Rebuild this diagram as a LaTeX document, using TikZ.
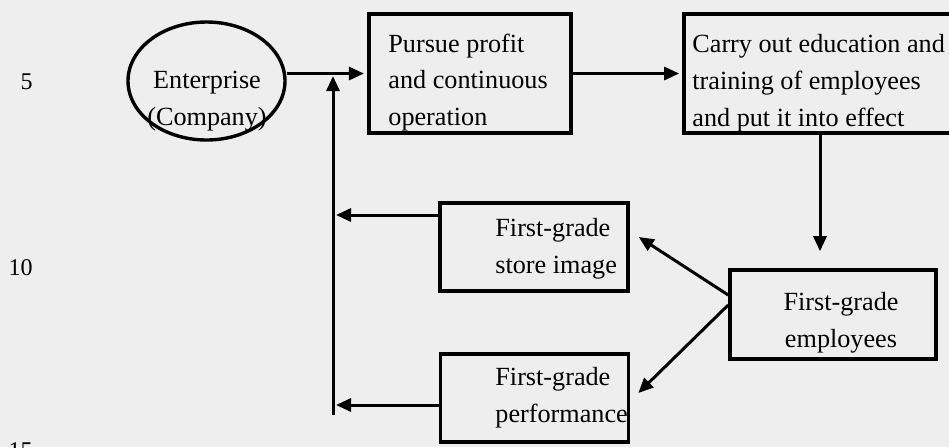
\documentclass[tikz,border=0pt]{standalone}
\usepackage{fontspec}
\setmainfont{Liberation Serif}
\usetikzlibrary{shapes,arrows.meta,positioning}
\definecolor{paper}{RGB}{238,238,238}

\begin{document}
\begin{tikzpicture}[
	x=0.5pt, y=-0.5pt,
	font=\fontsize{13.1}{18.3}\selectfont,
	box/.style={draw, rectangle, line width=1.8pt, inner sep=0pt},
	firmnode/.style={draw, ellipse, line width=1.7pt, minimum width=78.5pt, minimum height=59pt, inner sep=0pt},
	boxtext/.style={inner sep=0pt, align=left, anchor=base west},
	linenum/.style={inner sep=0pt, anchor=base east, font=\fontsize{12}{14}\selectfont},
	arr/.style={-{Triangle[length=7.5pt,width=6.5pt]}, line width=1.5pt},
	]
	\fill[paper] (0,0) rectangle (949,447);
	\useasboundingbox (0,0) rectangle (949,447);

	%Line numbers
	\node[linenum] (n5)  at (33,89)  {5};
	\node[linenum] (n10) at (33,275) {10};
	\node[linenum] (n15) at (33,458) {15};

	%Nodes (text anchored at the base of its last line)
	\node[firmnode] (firm)   at (206.5,81) {};
	\node[boxtext, align=center, anchor=base] (firmtxt) at (207,125.5) {Enterprise\\(Company)};
	\node[box, minimum width=101.25pt, minimum height=59.5pt] (profit) at (470,73.5) {};
	\node[boxtext] (profittxt) at (388,125.5) {Pursue profit\\and continuous\\operation};
	\node[box, minimum width=136pt, minimum height=59.5pt]    (train)  at (820,73.5) {};
	\node[boxtext] (traintxt) at (692,126) {Carry out education and\\training of employees\\and put it into effect};
	\node[box, minimum width=103pt, minimum height=44.5pt]    (emp)    at (833,314.5) {};
	\node[boxtext, align=center, anchor=base] (emptxt) at (841,347.5) {First-grade\\employees};
	\node[box, minimum width=94pt, minimum height=43.75pt]    (store)  at (534,247) {};
	\node[boxtext] (storetxt) at (495,273.5) {First-grade\\store image};
	\node[box, minimum width=94pt, minimum height=44pt]       (perf)   at (534.5,398) {};
	\node[boxtext] (perftxt) at (495,422.5) {First-grade\\performance};
	\coordinate (looptop) at (333,76);
	\coordinate (loopbot) at (333,415);

	%Lines
	\draw[arr, shorten >=1.5pt] (firm.east |- profit.west) -- (profit.west);
	\draw[arr] (loopbot) -- (looptop);
	\draw[arr, shorten >=1.5pt] (profit) -- (train);
	\draw[arr, shorten >=8.5pt] (train.south) -- (train.south |- emp.north);
	\draw[arr] ([yshift=9.75pt]emp.west) -- ([shift={(4.5pt,5pt)}]store.east);
	\draw[arr] ([yshift=4.75pt]emp.west) -- ([shift={(4pt,2.5pt)}]perf.east);
	\draw[arr, shorten >=1.5pt] ([yshift=16pt]store.west) -- ([yshift=16pt]store.west -| loopbot);
	\draw[arr, shorten >=1.5pt] ([yshift=-3.5pt]perf.west) -- ([yshift=-3.5pt]perf.west -| loopbot);
\end{tikzpicture}
\end{document}
